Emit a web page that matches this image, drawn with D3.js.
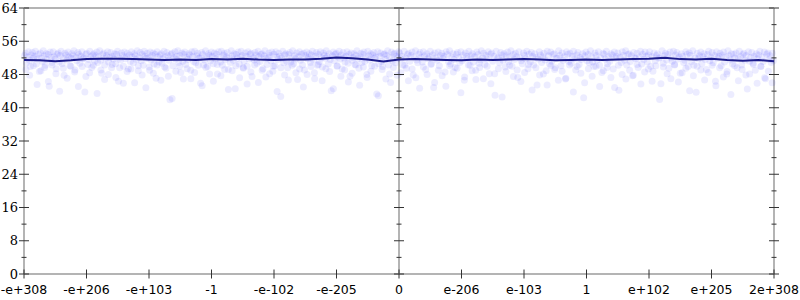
<!DOCTYPE html>
<html>
<head>
<meta charset="utf-8">
<script src="https://cdn.jsdelivr.net/npm/d3@7"></script>
<style>
  html, body { margin: 0; padding: 0; background: #fff; }
  svg { display: block; }
</style>
</head>
<body>
<svg id="chart"></svg>
<script>
// x axis tick labels (13 evenly spaced positions)
const xTickLabels = ["-e+308", "-e+206", "-e+103", "-1", "-e-102", "-e-205", "0",
                     "e-206", "e-103", "1", "e+102", "e+205", "2e+308"];
const yTicks = [0, 8, 16, 24, 32, 40, 48, 56, 64];

// error bits of sampled points, negative half of inputs
const leftErr = [
  52.6,53.1,50.8,52.2,53.5,51.4,49.9,52.7,53.3,51.9,52.4,53.6,50.5,51.8,52.9,
  48.7,53.2,52.0,51.1,53.7,52.5,50.2,53.0,51.6,52.8,45.2,53.4,52.1,50.9,
  53.5,52.3,51.7,49.4,52.9,53.2,51.0,52.6,53.6,50.6,52.0,47.8,53.1,52.7,51.5,53.4,52.2,50.1,
  51.9,53.0,52.5,53.7,49.1,52.1,51.3,53.3,52.8,50.7,52.4,53.5,51.8,52.0,
  43.8,52.9,53.1,50.4,51.6,53.6,52.3,49.7,52.7,53.0,51.2,52.5,53.4,
  50.9,52.2,53.7,51.4,48.3,52.8,53.2,50.3,51.9,52.6,53.5,51.0,52.1,
  53.3,49.6,52.4,51.7,53.0,50.6,52.9,53.6,46.4,52.0,51.5,53.2,52.6,50.0,53.4,
  51.8,52.3,53.1,49.3,52.7,51.1,53.5,52.2,50.8,53.0,52.5,51.6,53.7,
  48.9,52.1,53.3,51.3,52.8,50.2,53.6,52.4,51.9,
  53.1,52.0,49.8,53.4,51.5,52.6,53.2,50.5,52.9,47.1,53.5,52.3,51.0,
  52.7,53.0,50.7,51.8,53.6,52.2,49.5,53.3,52.5,51.4,
  41.9,52.8,53.1,50.1,52.0,53.5,51.7,52.4,53.7,50.9,
  52.6,48.5,53.2,51.2,52.9,53.4,50.4,52.1,51.6,53.0,52.7,
  49.0,53.5,52.3,51.1,53.6,50.8,52.5,53.1,51.9,52.0,45.9,53.3,
  52.8,50.3,51.5,53.7,52.2,49.9,53.0,52.6,51.3,53.4,
  52.4,50.6,53.2,51.8,52.9,48.1,53.5,52.1,51.0,53.6,50.2,
  52.7,53.1,51.6,52.3,53.3,49.2,52.0,50.9,53.7,52.5,
  51.4,53.0,44.6,52.8,51.9,53.4,50.5,52.2,53.6,52.6,
  49.7,51.2,53.2,52.4,50.0,53.5,51.7,52.9,53.1,
  47.5,52.0,51.5,53.3,52.7,50.7,53.6,52.3,51.1,52.8,
  53.0,49.4,52.5,53.7,51.8,50.4,52.1,53.2,
  52.6,51.3,53.4,48.8,52.9,50.1,53.5,52.2,51.6,
  53.1,52.4,42.7,51.9,53.6,50.8,52.7,53.0,51.2,49.6,
  52.8,53.3,51.0,52.0,53.7,50.6,52.5,51.7,53.2,
  46.8,52.3,53.5,51.4,52.9,50.3,53.1,49.1,52.6,53.4,
  51.8,52.1,53.0,50.9,52.7,53.6,51.5,48.4,52.4,53.3,
  50.2,52.8,51.1,53.5,52.0,49.8,53.2,52.6,51.9,53.7,
  52.3,50.5,53.0,51.6,44.1,52.5,53.4,51.3,52.9,
  53.1,50.0,52.2,53.6,51.7,52.7,49.3,53.3,52.0,51.0,
  52.4,53.5,50.7,52.8,47.6,53.2,51.4,52.1,53.0,50.4,
  52.6,53.7,51.8,49.5,52.3,53.1,50.9,52.9,53.4,51.2,
  52.0,48.0,53.6,52.5,51.5,53.0,50.1,52.7,
  53.3,51.9,52.2,43.3,53.5,50.6,52.4,53.2,51.1,49.9,52.8,
  53.0,51.6,52.6,53.7,50.3,52.1,46.1,53.4,51.3,52.9,53.1,50.8,52.4,51.9,53.5
];

// error bits of sampled points, positive half of inputs
const rightErr = [
  53.2,51.7,52.4,50.3,53.6,52.0,49.5,52.8,53.1,51.2,52.6,53.4,
  47.9,52.2,53.7,51.5,50.8,52.9,53.3,52.1,
  51.0,53.5,52.5,49.2,53.0,51.8,52.3,53.6,50.6,52.7,
  44.9,53.2,52.0,51.4,53.4,50.1,52.6,53.1,51.9,52.4,48.6,53.5,
  52.8,51.1,53.7,50.5,52.2,53.0,51.6,49.7,52.9,53.3,
  52.1,50.9,53.5,51.3,52.7,46.6,53.2,52.4,51.8,53.6,50.2,
  52.5,53.0,51.0,52.3,49.0,53.4,52.8,50.7,51.5,53.7,
  52.0,53.1,50.4,52.6,51.7,53.5,48.2,52.9,53.2,51.2,
  52.4,43.0,53.6,51.9,52.1,50.8,53.3,52.7,51.4,53.0,
  49.8,52.5,53.4,51.1,52.2,53.7,50.0,52.8,51.6,53.1,
  52.3,47.3,53.5,52.0,51.3,50.6,53.2,52.6,51.8,
  53.6,49.4,52.9,51.0,53.3,52.4,50.3,53.0,52.1,45.5,
  51.7,53.5,52.7,50.9,52.2,53.1,51.5,48.9,53.6,52.5,
  50.5,53.4,51.2,52.8,53.0,49.6,52.0,51.9,53.7,
  52.6,50.1,53.2,51.4,52.3,46.9,53.5,52.9,51.1,53.1,50.7,
  52.4,53.6,51.8,49.1,52.7,53.3,50.4,52.1,51.6,53.0,
  42.4,52.5,53.4,51.3,52.8,50.8,53.7,52.2,51.0,49.9,
  53.2,52.6,51.5,53.5,50.2,52.0,48.5,53.1,52.9,51.7,
  53.6,50.6,52.3,51.2,53.0,52.7,49.3,53.4,
  51.9,52.4,53.2,44.2,52.1,50.9,53.5,52.6,51.4,53.7,
  50.3,52.8,53.0,51.1,52.5,47.7,53.3,52.0,51.8,
  53.1,49.7,52.2,53.6,50.5,52.9,51.6,53.4,52.4,51.0,
  52.7,53.5,50.0,52.3,48.8,53.2,51.3,52.6,53.0,
  51.9,52.1,45.8,53.7,50.7,52.5,53.1,51.5,52.8,49.5,
  53.4,52.0,51.2,53.6,50.4,52.7,53.3,51.7,52.2,
  48.3,53.0,52.4,50.9,51.4,53.5,52.9,49.9,53.2,52.6,
  51.1,53.7,50.2,52.0,43.7,53.1,51.8,52.5,53.4,50.6,
  52.3,53.0,51.6,49.2,52.8,53.6,51.3,52.1,53.3,
  50.8,52.6,46.4,53.5,51.9,52.4,53.1,50.1,52.7,
  53.4,51.0,52.2,48.1,53.7,52.5,51.5,53.0,50.5,52.9,
  52.0,53.2,49.6,51.7,53.6,52.3,50.3,52.8,53.1,51.4,
  52.6,44.5,53.5,51.2,52.1,53.3,50.7,52.4,49.0,53.0,
  51.8,52.7,53.6,50.0,52.2,51.1,53.4,47.0,52.9,53.2,51.6,52.5,50.9,53.1,51.3
];

// extra low-error samples forming the faint tail under the band
const leftTail = [
  49.2,47.8,50.1,45.6,48.9,49.7,46.3,50.3,48.2,44.0,49.5,47.1,50.0,48.6,45.1,49.9,47.5,48.4,50.2,43.4,
  49.1,46.8,48.0,50.4,47.3,49.6,45.9,48.7,49.3,46.0,50.1,47.9,44.8,49.0,48.3,50.3,46.6,49.8,47.6,42.2,
  48.8,50.0,46.9,49.4,47.0,48.5,50.2,45.3,49.7,48.1,46.4,50.4,47.7,49.2,44.4,48.9,50.1,47.2,49.5,45.7,
  48.6,50.3,46.1,49.0,47.4,48.2,50.0,43.9,49.6,47.9,46.7,50.2,48.4,49.3,45.0,48.0,49.9,47.0,50.4,46.5,
  49.4,48.7,44.6,50.1,47.6,49.1,46.2,48.3,50.3,45.4,49.8,47.3,48.8,50.0,42.9,49.2,46.9,48.1,49.7,47.8
];
const rightTail = [
  48.4,50.2,46.5,49.3,47.2,44.7,49.8,48.0,50.4,46.1,49.0,47.7,45.2,50.1,48.6,49.5,43.6,47.4,50.3,48.9,
  46.8,49.7,47.0,50.0,45.8,48.2,49.4,42.6,48.7,50.2,47.5,49.1,46.3,48.5,50.4,44.3,49.6,47.9,48.1,45.5,
  50.1,49.2,46.6,48.8,47.1,50.3,43.8,49.9,48.3,46.0,49.4,47.6,50.0,45.1,48.9,49.7,47.3,44.9,50.2,48.0,
  46.9,49.0,47.8,50.4,45.7,48.6,49.3,46.4,50.1,42.0,49.8,48.2,47.0,50.3,46.2,48.4,49.5,44.1,47.7,50.0,
  49.1,46.7,48.5,50.2,45.3,49.6,47.4,48.7,43.2,50.1,46.5,49.2,47.9,48.1,50.4,45.9,49.9,47.2,48.8,46.0
];

// averaged error line, 49 evenly spaced samples across the whole x range
const avgErr = [
  51.5,51.4,51.2,51.4,51.7,51.8,51.8,51.7,51.6,51.5,51.6,51.5,51.7,51.6,51.8,51.6,51.5,
  51.6,51.6,51.8,52.1,51.9,51.6,51.1,51.6,51.7,51.6,51.5,51.4,51.6,51.5,51.6,51.7,51.6,
  51.4,51.5,51.6,51.5,51.6,51.7,51.8,52.0,51.7,51.6,51.8,51.5,51.3,51.5,51.2
];

const width = 800, height = 300;
const padLeft = 24, padRight = 774, padTop = 8, padBottom = 274;

const svg = d3.select("#chart").attr("width", width).attr("height", height);

const x = d3.scaleLinear().domain([0, xTickLabels.length - 1]).range([padLeft, padRight]);
const y = d3.scaleLinear().domain([0, 64]).range([padBottom, padTop]);

const axisColor = "#b4b4b4";
const tickColor = "#333";

// frame lines
const frame = svg.append("g").attr("stroke", axisColor).attr("stroke-width", 2);
frame.append("line").attr("x1", x(0)).attr("x2", x(12)).attr("y1", y(64)).attr("y2", y(64));
frame.append("line").attr("x1", x(0)).attr("x2", x(12)).attr("y1", y(0)).attr("y2", y(0));
[0, 6, 12].forEach(v => {
  frame.append("line").attr("x1", x(v)).attr("x2", x(v)).attr("y1", y(0)).attr("y2", y(64));
});

// scatter points: each list spread evenly over its half of the x range
const half = 6;
const spread = (arr, start) => arr.map((e, i) => ({ x: start + half * (i + 0.5) / arr.length, e }));
const pts = spread(leftErr, 0).concat(spread(leftTail, 0),
  spread(rightErr, half), spread(rightTail, half));

svg.append("g").selectAll("circle")
  .data(pts)
  .enter().append("circle")
  .attr("cx", d => x(d.x))
  .attr("cy", d => y(d.e))
  .attr("r", 3.5)
  .attr("fill", "#0000ff")
  .attr("fill-opacity", 0.075);

// average line
const line = d3.line()
  .x((d, i) => x(12 * i / (avgErr.length - 1)))
  .y(d => y(d));

svg.append("path")
  .datum(avgErr)
  .attr("d", line)
  .attr("fill", "none")
  .attr("stroke", "#1c1c8c")
  .attr("stroke-width", 2);

// y ticks on the three vertical axes
const yt = svg.append("g").attr("stroke", tickColor).attr("stroke-width", 1);
[0, 6, 12].forEach(v => {
  d3.range(0, 65, 4).forEach(t => {
    const len = t % 8 === 0 ? 5 : 2.5;
    yt.append("line")
      .attr("x1", x(v) - len).attr("x2", x(v) + len)
      .attr("y1", y(t)).attr("y2", y(t));
  });
});

// y labels
svg.append("g").selectAll("text")
  .data(yTicks)
  .enter().append("text")
  .attr("x", padLeft - 6)
  .attr("y", d => y(d) + 4.5)
  .attr("text-anchor", "end")
  .attr("font-family", "DejaVu Serif")
  .attr("font-size", 13)
  .attr("fill", "#000")
  .text(d => d);

// x ticks and labels
const xt = svg.append("g");
xt.selectAll("line")
  .data(xTickLabels)
  .enter().append("line")
  .attr("x1", (d, i) => x(i)).attr("x2", (d, i) => x(i))
  .attr("y1", padBottom - 4.5).attr("y2", padBottom + 4.5)
  .attr("stroke", tickColor).attr("stroke-width", 1);

xt.selectAll("text")
  .data(xTickLabels)
  .enter().append("text")
  .attr("x", (d, i) => x(i))
  .attr("y", 294)
  .attr("text-anchor", "middle")
  .attr("font-family", "DejaVu Sans")
  .attr("font-size", 12.5)
  .attr("fill", "#000")
  .text(d => d);
</script>
</body>
</html>
